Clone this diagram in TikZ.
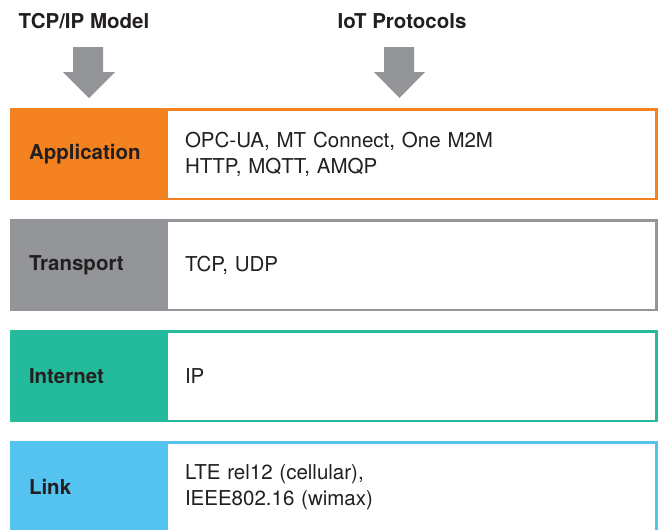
\documentclass[tikz,border=0pt]{standalone}
\usepackage{fontspec}
\setmainfont{TeX Gyre Heros}
\definecolor{ink}{RGB}{35,31,32}
\definecolor{apporange}{RGB}{245,130,32}
\definecolor{transgray}{RGB}{147,149,152}
\definecolor{netgreen}{RGB}{35,187,155}
\definecolor{linkblue}{RGB}{85,195,240}
\definecolor{arrowgray}{RGB}{147,149,152}
\begin{document}
\begin{tikzpicture}[x=1pt, y=-1pt]
		\tikzstyle{layer}=[anchor=north west, outer sep=0pt, minimum width=156pt, minimum height=92pt, text width=118pt, inner xsep=19pt, align=left, text=ink, font=\bfseries\fontsize{20.5}{26}\selectfont]
		\tikzstyle{proto}=[anchor=north west, draw, line width=2.5pt, fill=white, minimum width=490pt, minimum height=89.5pt, text width=452.5pt, inner xsep=18.75pt, align=left, text=ink, font=\fontsize{20.5}{26}\selectfont]
		\tikzstyle{heading}=[anchor=base, text=ink, font=\bfseries\fontsize{20.5}{26}\selectfont]
		\useasboundingbox (0,0) rectangle (659,530);
		% headings and arrows
		\node[heading](model)at(84,28){TCP/IP Model};
		\node[heading](iot)at(402,28){IoT Protocols};
		\fill[arrowgray] (73,47) -- (103,47) -- (103,72) -- (115,72) -- (89,98) -- (63,72) -- (73,72) -- cycle;
		\fill[arrowgray] (384,47) -- (414,47) -- (414,72) -- (425,72) -- (399.5,98) -- (374,72) -- (384,72) -- cycle;
		% layers
		\node[layer,fill=apporange](app)at(10,108){Application};
		\node[proto,draw=apporange](appp)at(165,108){OPC-UA, MT Connect, One M2M\\HTTP, MQTT, AMQP};
		\node[layer,fill=transgray](trans)at(10,219){Transport};
		\node[proto,draw=transgray](transp)at(165,219){TCP, UDP};
		\node[layer,fill=netgreen](net)at(10,330){Internet};
		\node[proto,draw=netgreen](netp)at(165,330){IP};
		\node[layer,fill=linkblue](link)at(10,441){Link};
		\node[proto,draw=linkblue](linkp)at(165,441){LTE rel12 (cellular),\\IEEE802.16 (wimax)};
\end{tikzpicture}
\end{document}
